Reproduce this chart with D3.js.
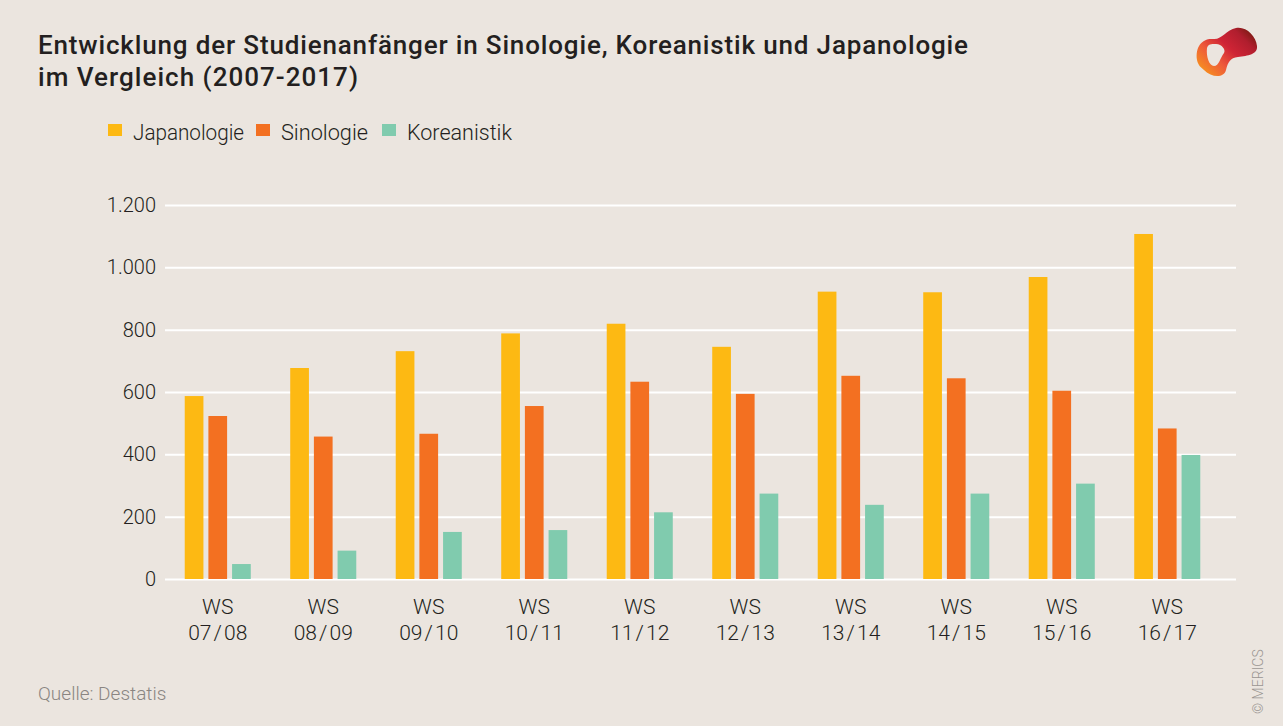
<!DOCTYPE html>
<html>
<head>
<meta charset="utf-8">
<script src="https://cdn.jsdelivr.net/npm/d3@7"></script>
<style>
  body { margin: 0; background: #ebe5df; }
  svg { display: block; font-family: Roboto, "Open Sans", sans-serif; }
</style>
</head>
<body>
<svg id="chart" width="1283" height="726"></svg>
<script>
var semesters = ['07/08', '08/09', '09/10', '10/11', '11/12', '12/13', '13/14', '14/15', '15/16', '16/17'];
var seriesNames = ['Japanologie', 'Sinologie', 'Koreanistik'];
var japanologie = [587, 677, 731, 788, 819, 745, 922, 920, 969, 1107];
var sinologie = [523, 457, 466, 555, 633, 594, 652, 644, 604, 483];
var koreanistik = [48, 91, 151, 157, 214, 274, 238, 274, 306, 398];
var yTicks = [0, 200, 400, 600, 800, 1000, 1200];
var colors = ['#fdb913', '#f37021', '#80cbae'];

var svg = d3.select('#chart');
var width = 1283;
var height = 726;

svg.append('rect')
	.attr('width', width)
	.attr('height', height)
	.attr('fill', '#ebe5df');

// title
var title = svg.append('text')
	.attr('fill', '#231f20')
	.style('font-size', '26px')
	.style('font-weight', 500);
title.append('tspan')
	.attr('x', 38)
	.attr('y', 54)
	.attr('textLength', 930)
	.attr('lengthAdjust', 'spacing')
	.text('Entwicklung der Studienanfänger in Sinologie, Koreanistik und Japanologie');
title.append('tspan')
	.attr('x', 38)
	.attr('y', 86)
	.attr('textLength', 320)
	.attr('lengthAdjust', 'spacing')
	.text('im Vergleich (2007-2017)');

// legend
var legendX = [108, 256, 382];
var legendW = [111, 87, 105];
seriesNames.forEach(function (name, i) {
	var g = svg.append('g').attr('transform', 'translate(' + legendX[i] + ',124)');
	g.append('rect').attr('width', 14).attr('height', 12).attr('fill', colors[i]);
	g.append('text')
		.attr('x', 25)
		.attr('y', 16)
		.attr('fill', '#231f20')
		.attr('textLength', legendW[i])
		.attr('lengthAdjust', 'spacingAndGlyphs')
		.style('font-size', '22px')
		.style('font-weight', 300)
		.text(name);
});

var y = d3.scaleLinear().domain([0, 1200]).range([579, 205]);
var x0 = d3.scaleBand().domain(semesters).range([165, 1220]).paddingInner(0.374).paddingOuter(0.187);
var x1 = d3.scaleBand().domain(seriesNames).range([0, x0.bandwidth()]).paddingInner(0.21);

// grid
var yAxis = d3.axisLeft(y)
	.tickValues(yTicks)
	.tickSize(-(1236 - 165))
	.tickPadding(9)
	.tickFormat(function (d) { return d3.format(',')(d).replace(/,/g, '.'); });

var gy = svg.append('g')
	.attr('transform', 'translate(165,0)')
	.call(yAxis);
gy.select('.domain').remove();
gy.selectAll('.tick line').attr('stroke', '#ffffff').attr('stroke-width', 2);
gy.selectAll('.tick text')
	.attr('fill', '#231f20')
	.style('font-size', '20px')
	.style('font-weight', 300)
	.style('font-family', 'Roboto, sans-serif');

// bars
var rows = semesters.map(function (s, i) {
	return { semester: s, values: [japanologie[i], sinologie[i], koreanistik[i]] };
});

var groups = svg.append('g').selectAll('g')
	.data(rows)
	.join('g')
	.attr('transform', function (d) { return 'translate(' + x0(d.semester) + ',0)'; });

groups.selectAll('rect')
	.data(function (d) { return d.values.map(function (v, i) { return { name: seriesNames[i], value: v, i: i }; }); })
	.join('rect')
	.attr('x', function (d) { return x1(d.name); })
	.attr('y', function (d) { return y(d.value); })
	.attr('width', x1.bandwidth())
	.attr('height', function (d) { return y(0) - y(d.value); })
	.attr('fill', function (d) { return colors[d.i]; });

// x labels
var xl = svg.append('g').selectAll('text')
	.data(semesters)
	.join('text')
	.attr('text-anchor', 'middle')
	.attr('fill', '#231f20')
	.style('font-size', '21px')
	.style('font-weight', 300);
xl.append('tspan')
	.attr('x', function (d) { return x0(d) + x0.bandwidth() / 2; })
	.attr('y', 614)
	.text('WS');
xl.append('tspan')
	.attr('x', function (d) { return x0(d) + x0.bandwidth() / 2; })
	.attr('y', 640)
	.text(function (d) { return d.replace('/', ' / '); })
	.style('word-spacing', '-3px');

// source
svg.append('text')
	.attr('x', 38)
	.attr('y', 700)
	.attr('fill', '#8a8582')
	.style('font-size', '19px')
	.style('font-weight', 300)
	.text('Quelle: Destatis');

svg.append('text')
	.attr('transform', 'translate(1263,714) rotate(-90)')
	.attr('fill', '#9a9592')
	.style('font-size', '14px')
	.style('font-weight', 300)
	.text('© MERICS');

// logo
var grad = svg.append('defs').append('linearGradient')
	.attr('id', 'logoGrad')
	.attr('gradientUnits', 'userSpaceOnUse')
	.attr('x1', 1205).attr('y1', 76).attr('x2', 1252).attr('y2', 28);
grad.append('stop').attr('offset', '0%').attr('stop-color', '#f7941d');
grad.append('stop').attr('offset', '30%').attr('stop-color', '#ee5a3a');
grad.append('stop').attr('offset', '55%').attr('stop-color', '#cf2435');
grad.append('stop').attr('offset', '80%').attr('stop-color', '#b01e2e');
grad.append('stop').attr('offset', '100%').attr('stop-color', '#6e1a0c');

svg.append('path')
	.attr('d', 'M1197,60 C1195,46 1203,38 1213,39 C1222,40 1226,30 1236,28 C1246,26 1256,36 1257,46 C1258,54 1248,56 1238,57 C1230,58 1228,62 1226,70 C1224,78 1212,78 1204,70 C1199,66 1198,64 1197,60 Z M1207,48 C1206,56 1209,66 1214,66 C1219,66 1220,58 1224,53 C1226,50 1222,44 1216,44 C1211,44 1208,44 1207,48 Z')
	.attr('fill', 'url(#logoGrad)')
	.attr('fill-rule', 'evenodd');
</script>
</body>
</html>
